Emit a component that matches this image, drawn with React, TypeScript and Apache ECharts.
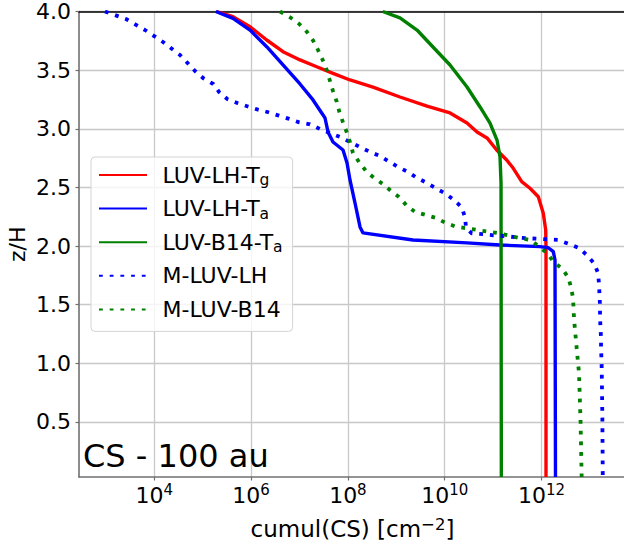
import { useEffect, useRef } from 'react';
import * as echarts from 'echarts';

// Each point: [log10(cumul(CS) / cm^-2), z/H]
const luvLhTg: [number, number][] = [
  [5.29, 4.0], [5.626, 3.956], [5.977, 3.87], [6.322, 3.757], [6.659, 3.657], [7.01, 3.587],
  [7.355, 3.529], [7.692, 3.473], [8.043, 3.416], [8.518, 3.356], [9.076, 3.271], [9.635, 3.194],
  [10.11, 3.135], [10.461, 3.049], [10.668, 2.973], [10.874, 2.922], [11.074, 2.819], [11.281, 2.734],
  [11.417, 2.663], [11.591, 2.549], [11.762, 2.493], [11.934, 2.421], [12.037, 2.28], [12.087, 2.137],
  [12.093, 1.992], [12.093, 0.031],
];

const luvLhTa: [number, number][] = [
  [5.27, 4.0], [5.626, 3.942], [5.977, 3.842], [6.322, 3.7], [6.659, 3.544], [7.01, 3.382],
  [7.279, 3.246], [7.486, 3.118], [7.527, 3.092], [7.589, 2.973], [7.692, 2.887], [7.899, 2.819],
  [7.982, 2.708], [8.043, 2.564], [8.147, 2.367], [8.25, 2.163], [8.312, 2.112], [9.345, 2.052],
  [10.461, 2.027], [11.143, 2.009], [11.969, 1.995], [12.14, 1.986], [12.244, 1.952], [12.279, 1.881],
  [12.289, 0.031],
];

const luvB14Ta: [number, number][] = [
  [8.72, 4.0], [9.076, 3.945], [9.428, 3.842], [9.758, 3.697], [10.11, 3.544], [10.461, 3.356],
  [10.73, 3.186], [10.936, 3.049], [11.081, 2.904], [11.143, 2.76], [11.164, 2.538], [11.17, 0.031],
];

const mLuvLh: [number, number][] = [
  [2.98, 4.0], [3.415, 3.936], [3.808, 3.842], [4.18, 3.74], [4.531, 3.629], [4.841, 3.493],
  [5.013, 3.431], [5.219, 3.382], [5.343, 3.311], [5.508, 3.254], [5.715, 3.22], [5.921, 3.192],
  [6.143, 3.163], [6.355, 3.141], [6.576, 3.112], [6.789, 3.084], [6.996, 3.055], [7.217, 3.038],
  [7.424, 2.998], [7.837, 2.93], [8.043, 2.887], [8.25, 2.845], [8.457, 2.802], [8.663, 2.768],
  [8.829, 2.725], [9.036, 2.674], [9.242, 2.632], [9.428, 2.581], [9.635, 2.538], [9.841, 2.487],
  [10.007, 2.45], [10.193, 2.393], [10.351, 2.331], [10.42, 2.246], [10.44, 2.157], [10.558, 2.109],
  [10.785, 2.101], [11.004, 2.092], [11.231, 2.086], [11.473, 2.075], [11.694, 2.067], [11.901, 2.063],
  [12.12, 2.058], [12.347, 2.052], [12.568, 2.018], [12.781, 1.981], [12.934, 1.924], [13.085, 1.853],
  [13.168, 1.771], [13.188, 1.677], [13.199, 1.583], [13.209, 1.489], [13.209, 1.395], [13.219, 1.302],
  [13.23, 1.217], [13.23, 1.123], [13.24, 1.029], [13.245, 0.935], [13.258, 0.52], [13.266, 0.031],
];

const mLuvB14: [number, number][] = [
  [6.597, 4.0], [6.818, 3.947], [6.996, 3.893], [7.149, 3.828], [7.279, 3.754], [7.382, 3.672],
  [7.479, 3.587], [7.562, 3.501], [7.63, 3.408], [7.692, 3.322], [7.769, 3.231], [7.822, 3.146],
  [7.893, 3.061], [7.982, 2.964], [8.043, 2.887], [8.105, 2.794], [8.229, 2.717], [8.374, 2.64],
  [8.539, 2.581], [8.725, 2.529], [8.891, 2.47], [9.056, 2.419], [9.221, 2.342], [9.387, 2.291],
  [9.614, 2.265], [9.821, 2.24], [10.007, 2.2], [10.234, 2.165], [10.455, 2.152], [10.674, 2.137],
  [10.901, 2.123], [11.122, 2.109], [11.335, 2.089], [11.556, 2.067], [11.777, 2.052], [11.948, 1.995],
  [12.12, 1.939], [12.244, 1.867], [12.417, 1.811], [12.548, 1.737], [12.61, 1.651], [12.651, 1.557],
  [12.662, 1.472], [12.672, 1.378], [12.693, 1.285], [12.713, 1.191], [12.734, 1.097], [12.755, 1.003],
  [12.775, 0.918], [12.806, 0.52], [12.83, 0.031],
];

const seriesNames = ['LUV-LH-Tg', 'LUV-LH-Ta', 'LUV-B14-Ta', 'M-LUV-LH', 'M-LUV-B14'];
const legendParts: Record<string, [string, string]> = {
  'LUV-LH-Tg': ['LUV-LH-T', 'g'],
  'LUV-LH-Ta': ['LUV-LH-T', 'a'],
  'LUV-B14-Ta': ['LUV-B14-T', 'a'],
  'M-LUV-LH': ['M-LUV-LH', ''],
  'M-LUV-B14': ['M-LUV-B14', ''],
};

const xTickExponents = [4, 6, 8, 10, 12];
const yTickValues = [0.5, 1.0, 1.5, 2.0, 2.5, 3.0, 3.5, 4.0];
const X_MIN = 2.444;
const X_MAX = 13.746;
const Y_MIN = 0.031;
const Y_MAX = 4.0;

const FONT = 'DejaVu Sans';
const SPINE = '#707070';
const GRID = '#c8c8c8';

export default function App() {
  const ref = useRef<HTMLDivElement>(null);

  useEffect(() => {
    const chart = echarts.init(ref.current!, null, { renderer: 'svg' });

    const solid = (color: string) => ({ color, width: 3.4, type: 'solid' as const, cap: 'butt' as const });
    const dotted = (color: string) => ({ color, width: 3.8, type: [3.8, 6.9], cap: 'butt' as const });

    const datasets = [luvLhTg, luvLhTa, luvB14Ta, mLuvLh, mLuvB14];
    const styles = [solid('#ff0000'), solid('#0000ff'), solid('#008000'), dotted('#0000ff'), dotted('#008000')];

    const option: any = {
      animation: false,
      backgroundColor: '#ffffff',
      textStyle: { fontFamily: FONT },
      title: {
        text: 'CS - 100 au',
        left: 83,
        top: 440,
        padding: 0,
        textStyle: { fontFamily: FONT, fontSize: 32, fontWeight: 'normal', color: '#000', lineHeight: 32 },
      },
      grid: { left: 79, top: 11.5, right: -2, bottom: 71, containLabel: false, outerBoundsMode: 'none' },
      legend: {
        orient: 'vertical',
        left: 91,
        top: 157,
        padding: [5, 10, 9, 7],
        itemGap: 7.6,
        itemWidth: 48,
        itemHeight: 26,
        backgroundColor: 'rgba(255,255,255,0.8)',
        borderColor: '#d4d4d4',
        borderWidth: 1,
        borderRadius: 4,
        itemStyle: { opacity: 0 },
        data: seriesNames,
        formatter: (name: string) => {
          const [main, sub] = legendParts[name];
          return sub ? `{m|${main}}{s|${sub}}` : `{m|${main}}`;
        },
        textStyle: {
          fontFamily: FONT,
          fontSize: 22,
          color: '#000',
          lineHeight: 26,
          rich: {
            m: { fontFamily: FONT, fontSize: 22, lineHeight: 26, color: '#000', padding: [0, 0, 0, 10.5] },
            s: { fontFamily: FONT, fontSize: 15.5, lineHeight: 15, color: '#000', verticalAlign: 'bottom' },
          },
        },
      },
      xAxis: [
        {
          type: 'value',
          min: X_MIN,
          max: X_MAX,
          splitNumber: 5,
          name: 'cumul(CS) [cm{s|−2}]',
          nameLocation: 'middle',
          nameGap: 39,
          nameMoveOverlap: false,
          nameTextStyle: {
            fontFamily: FONT,
            fontSize: 23,
            color: '#000',
            lineHeight: 26,
            rich: { s: { fontFamily: FONT, fontSize: 16.5, lineHeight: 15, color: '#000', verticalAlign: 'top' } },
          },
          axisLine: { show: true, onZero: false, lineStyle: { color: SPINE, width: 1.6 } },
          axisTick: { show: true, length: 3.5, customValues: xTickExponents, lineStyle: { color: SPINE, width: 1.2 } },
          axisLabel: {
            show: true,
            customValues: xTickExponents,
            margin: 5.5,
            formatter: (v: number) => `{m|10}{s|${Math.round(v)}}`,
            rich: {
              m: { fontFamily: FONT, fontSize: 22, lineHeight: 26, color: '#000' },
              s: { fontFamily: FONT, fontSize: 15, lineHeight: 15, color: '#000', verticalAlign: 'top' },
            },
          },
          splitLine: { show: true, lineStyle: { color: GRID, width: 1.3 } },
        },
        {
          type: 'value',
          position: 'top',
          min: X_MIN,
          max: X_MAX,
          axisLine: { show: true, onZero: false, lineStyle: { color: '#000', width: 1.6 } },
          axisTick: { show: false },
          axisLabel: { show: false },
          splitLine: { show: false },
        },
      ],
      yAxis: {
        type: 'value',
        min: Y_MIN,
        max: Y_MAX,
        splitNumber: 8,
        name: 'z/H',
        nameLocation: 'middle',
        nameRotate: 90,
        nameGap: 48.5,
        nameMoveOverlap: false,
        nameTextStyle: { fontFamily: FONT, fontSize: 22, color: '#000', lineHeight: 26 },
        axisLine: { show: true, onZero: false, lineStyle: { color: SPINE, width: 1.6 } },
        axisTick: { show: true, length: 3.5, customValues: yTickValues, lineStyle: { color: SPINE, width: 1.2 } },
        axisLabel: {
          show: true,
          customValues: yTickValues,
          margin: 8,
          fontFamily: FONT,
          fontSize: 22,
          color: '#000',
          formatter: (v: number) => v.toFixed(1),
        },
        splitLine: { show: true, lineStyle: { color: GRID, width: 1.3 } },
      },
      series: datasets.map((d, i) => ({
        name: seriesNames[i],
        type: 'line',
        xAxisIndex: 0,
        data: d,
        symbol: 'none',
        showSymbol: false,
        smooth: false,
        clip: true,
        lineStyle: styles[i],
        itemStyle: { color: styles[i].color },
        z: 2 + i,
      })),
    };

    chart.setOption(option);
    return () => chart.dispose();
  }, []);

  return (
    <div
      ref={ref}
      style={{ position: 'fixed', left: 0, top: 0, width: 624, height: 548, background: '#fff' }}
    />
  );
}
